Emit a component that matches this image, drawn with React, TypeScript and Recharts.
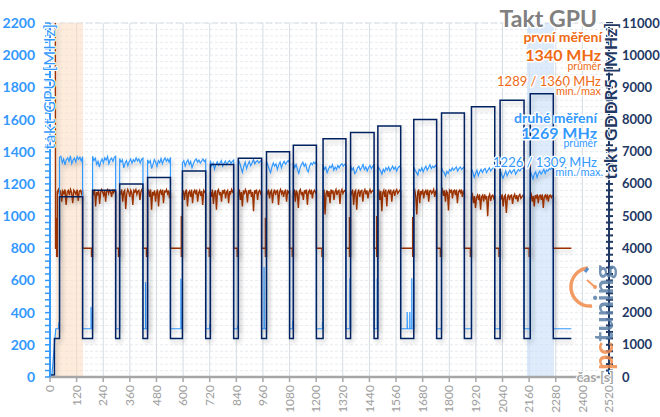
import React from 'react';
import { LineChart, Line, XAxis, YAxis, CartesianGrid, ReferenceArea } from 'recharts';

const FONT = 'Lato, "Open Sans", sans-serif';

// ---- axis ticks ----
const xMajorTicks = [0, 120, 240, 360, 480, 600, 720, 840, 960, 1080, 1200, 1320, 1440, 1560, 1680, 1800, 1920, 2040, 2160, 2280, 2400, 2520];
const xMinorTicks = Array.from({ length: 106 }, (_, i) => i * 24);
const gpuMajorTicks = [0, 200, 400, 600, 800, 1000, 1200, 1400, 1600, 1800, 2000, 2200];
const gpuMinorTicks = Array.from({ length: 56 }, (_, i) => i * 40);
const memTicks = Array.from({ length: 56 }, (_, i) => i * 200);

// ---- memory clock (GDDR5) pulses, right axis ----
const pulseStart = [43, 192, 314, 440, 597, 723, 849, 976, 1097, 1231, 1355, 1478, 1640, 1765, 1900, 2029, 2165];
const pulseEnd = [147, 296, 419, 543, 702, 828, 954, 1080, 1201, 1334, 1461, 1581, 1743, 1868, 2005, 2137, 2269];
const memHigh = [5600, 5800, 6000, 6200, 6400, 6600, 6800, 7000, 7200, 7400, 7600, 7800, 8000, 8200, 8400, 8600, 8800];
const memLow = 1200;
const memIntro = [
  { t: 0, v: 60 },
  { t: 20, v: 60 },
  { t: 20, v: 1200 },
];
const endTime = 2350;

// ---- second measurement (blue), left axis ----
const blueIdle = 300;
const blueIntro = [
  { t: 0, v: 0 },
  { t: 8, v: 0 },
  { t: 26, v: 300 },
  { t: 39, v: 300 },
  { t: 40, v: 340 },
  { t: 41, v: 300 },
];
const blueLoad = [
  [1365, 1372, 1330, 1355, 1318, 1350, 1362, 1340, 1375, 1325, 1348, 1360, 1335, 1370, 1352, 1366, 1342, 1370],
  [1372, 1345, 1360, 1322, 1340, 1305, 1338, 1355, 1330, 1362, 1348, 1370, 1325, 1350, 1360, 1340, 1365, 1372],
  [1358, 1335, 1350, 1300, 1330, 1345, 1312, 1340, 1355, 1328, 1350, 1338, 1362, 1342, 1356, 1330, 1352, 1360],
  [1350, 1330, 1345, 1295, 1320, 1352, 1335, 1310, 1345, 1330, 1358, 1325, 1348, 1362, 1340, 1355, 1335, 1365],
  [1330, 1345, 1310, 1335, 1350, 1320, 1340, 1300, 1325, 1345, 1355, 1335, 1348, 1330, 1342, 1355, 1338, 1350],
  [1345, 1310, 1330, 1292, 1320, 1338, 1315, 1330, 1345, 1310, 1328, 1342, 1320, 1336, 1345, 1328, 1340, 1348],
  [1350, 1330, 1300, 1272, 1310, 1335, 1295, 1320, 1340, 1312, 1330, 1350, 1325, 1338, 1345, 1330, 1340, 1348],
  [1340, 1318, 1290, 1270, 1305, 1330, 1310, 1325, 1290, 1318, 1336, 1300, 1325, 1340, 1322, 1335, 1345, 1330],
  [1335, 1300, 1320, 1290, 1265, 1300, 1320, 1335, 1310, 1325, 1290, 1275, 1310, 1330, 1318, 1335, 1325, 1340],
  [1320, 1290, 1305, 1270, 1290, 1310, 1300, 1320, 1285, 1305, 1290, 1315, 1300, 1318, 1325, 1310, 1322, 1315],
  [1315, 1285, 1300, 1265, 1275, 1300, 1310, 1285, 1300, 1320, 1290, 1305, 1280, 1300, 1315, 1295, 1310, 1318],
  [1310, 1295, 1280, 1260, 1290, 1275, 1300, 1285, 1305, 1280, 1295, 1310, 1290, 1305, 1280, 1300, 1310, 1302],
  [1305, 1285, 1270, 1255, 1290, 1280, 1300, 1275, 1295, 1310, 1285, 1300, 1320, 1295, 1310, 1300, 1315, 1305],
  [1300, 1280, 1270, 1250, 1278, 1265, 1290, 1280, 1300, 1285, 1295, 1305, 1280, 1295, 1305, 1290, 1300, 1308],
  [1295, 1275, 1240, 1265, 1285, 1250, 1275, 1290, 1270, 1288, 1295, 1270, 1285, 1300, 1280, 1292, 1300, 1305],
  [1290, 1260, 1235, 1255, 1280, 1250, 1270, 1285, 1265, 1280, 1290, 1260, 1275, 1290, 1280, 1295, 1300, 1298],
  [1285, 1255, 1230, 1260, 1275, 1240, 1265, 1280, 1260, 1275, 1290, 1265, 1285, 1280, 1295, 1290, 1300, 1295],
];
const blueSpikes = [
  [185, 435], [431, 590], [590, 610], [720, 330], [846, 320], [965, 683], [1094, 350],
  [1228, 340], [1352, 613], [1475, 613], [1610, 404], [1622, 404], [1631, 613],
];

// ---- first measurement (orange), left axis ----
const orangeIdle = 800;
const orangeDip = 750;
const orangeIntro = [
  { t: 24, v: 2200 },
  { t: 25, v: 800 },
  { t: 29, v: 800 },
  { t: 30, v: 990 },
  { t: 30, v: 750 },
];
const orangeStart = [33, 192, 314, 440, 597, 723, 849, 976, 1097, 1231, 1355, 1478, 1640, 1765, 1900, 2029, 2165];
const orangeGapSpike = [0, 0, 0, 1000, 0, 0, 990, 0, 0, 995, 1000, 995, 0, 0, 0, 0];
const orangeLoad = [
  [1150, 1165, 1135, 1160, 1090, 1155, 1140, 1165, 1070, 1150, 1160, 1130, 1165, 1145, 1080, 1160, 1150, 1135, 1165, 1095, 1155, 1160, 1140, 1165],
  [1160, 1140, 1165, 1060, 1150, 1135, 1160, 1075, 1145, 1165, 1150, 1130, 1160, 1090, 1155, 1165, 1140, 1160, 1150, 1120, 1165, 1145, 1160, 1150],
  [1155, 1140, 1165, 1090, 1150, 1160, 1045, 1140, 1165, 1150, 1120, 1160, 1145, 1070, 1160, 1150, 1165, 1135, 1155, 1160, 1100, 1150, 1165, 1155],
  [1150, 1160, 1120, 1165, 1040, 1150, 1135, 1160, 1090, 1145, 1165, 1060, 1150, 1160, 1130, 1165, 1080, 1155, 1150, 1165, 1140, 1160, 1110, 1155],
  [1140, 1160, 1100, 1150, 1165, 1060, 1145, 1155, 1120, 1165, 1080, 1150, 1160, 1135, 1165, 1090, 1145, 1160, 1125, 1155, 1070, 1160, 1150, 1140],
  [1150, 1120, 1165, 1075, 1145, 1160, 1040, 1155, 1165, 1130, 1150, 1090, 1160, 1145, 1165, 1110, 1150, 1160, 1080, 1155, 1140, 1165, 1150, 1160],
  [1145, 1165, 1100, 1150, 1060, 1160, 1135, 1165, 1150, 1085, 1160, 1145, 1165, 1120, 1150, 1030, 1160, 1145, 1165, 1100, 1150, 1160, 1140, 1155],
  [1155, 1140, 1165, 1110, 1150, 1160, 1080, 1145, 1165, 1130, 1155, 1160, 1070, 1150, 1165, 1140, 1160, 1120, 1150, 1165, 1090, 1155, 1145, 1160],
  [1150, 1165, 1090, 1160, 1140, 1050, 1155, 1165, 1130, 1150, 1100, 1160, 1145, 1165, 1070, 1150, 1160, 1135, 1165, 1110, 1150, 1160, 1145, 1155],
  [1150, 1165, 1010, 1140, 1160, 1120, 1155, 1080, 1165, 1145, 1160, 1100, 1150, 1165, 1130, 1155, 1160, 1075, 1150, 1165, 1140, 1155, 1160, 1145],
  [1155, 1140, 1165, 1070, 1150, 1160, 1040, 1145, 1165, 1120, 1155, 1160, 1090, 1150, 1165, 1135, 1160, 1110, 1150, 1165, 1145, 1155, 1160, 1150],
  [1150, 1165, 1100, 1155, 1030, 1145, 1160, 1120, 1165, 1060, 1150, 1160, 1135, 1165, 1090, 1150, 1160, 1125, 1155, 1165, 1140, 1150, 1160, 1155],
  [1145, 1160, 1120, 1010, 1150, 1165, 1080, 1155, 1140, 1165, 1110, 1150, 1160, 1130, 1165, 1090, 1155, 1160, 1140, 1150, 1165, 1120, 1155, 1160],
  [1150, 1165, 1125, 1160, 1090, 1155, 1145, 1035, 1160, 1150, 1165, 1110, 1155, 1160, 1130, 1165, 1080, 1150, 1160, 1145, 1165, 1120, 1155, 1160],
  [1120, 1135, 1080, 1125, 1050, 1115, 1130, 1100, 1135, 1040, 1120, 1130, 1090, 1135, 1110, 1125, 1000, 1120, 1135, 1095, 1125, 1130, 1110, 1128],
  [1125, 1110, 1135, 1060, 1120, 1130, 1020, 1115, 1135, 1100, 1125, 1130, 1075, 1120, 1135, 1105, 1130, 1090, 1125, 1135, 1110, 1120, 1130, 1125],
  [1120, 1135, 1090, 1125, 1060, 1130, 1115, 1135, 1080, 1125, 1130, 1100, 1135, 1050, 1120, 1130, 1110, 1135, 1090, 1125, 1130, 1115, 1128, 1130],
];

// ---- legend / title texts ----
const chartTitle = 'Takt GPU';
const leftAxisTitle = 'takt GPU [MHz]';
const rightAxisTitle = 'takt GDDR5 [MHz]';
const xAxisTitle = 'čas [s]';
const run1 = ['první měření', '1340 MHz', 'průměr', '1289 / 1360 MHz', 'min./max'];
const run2 = ['druhé měření', '1269 MHz', 'průměr', '1226 / 1309 MHz', 'min./max.'];

type P = { t: number; v: number };

function spread(s: number, e: number, vals: number[]): P[] {
  return vals.map((v, k) => ({ t: s + ((e - s) * k) / (vals.length - 1), v }));
}

const navyData: P[] = [...memIntro];
pulseStart.forEach((s, i) => {
  navyData.push({ t: s, v: memLow }, { t: s, v: memHigh[i] }, { t: pulseEnd[i], v: memHigh[i] }, { t: pulseEnd[i], v: memLow });
});
navyData.push({ t: endTime, v: memLow });

const blueData: P[] = [...blueIntro];
pulseStart.forEach((s, i) => {
  const e = pulseEnd[i];
  blueData.push({ t: s, v: blueIdle });
  blueData.push(...spread(s, e, blueLoad[i]));
  blueData.push({ t: e, v: blueIdle });
  const next = i < pulseStart.length - 1 ? pulseStart[i + 1] : endTime;
  blueSpikes
    .filter(([ts]) => ts > e && ts < next)
    .forEach(([ts, vs]) => {
      blueData.push({ t: ts, v: blueIdle }, { t: ts, v: vs }, { t: ts + 1, v: blueIdle });
    });
  blueData.push({ t: next, v: blueIdle });
});

const orangeData: P[] = [...orangeIntro];
orangeStart.forEach((s, i) => {
  const e = pulseEnd[i];
  orangeData.push({ t: s, v: orangeDip });
  orangeData.push(...spread(s, e, orangeLoad[i]));
  orangeData.push({ t: e, v: orangeIdle });
  if (i < orangeStart.length - 1) {
    const ns = orangeStart[i + 1];
    orangeData.push({ t: ns - 5, v: orangeIdle });
    if (orangeGapSpike[i]) orangeData.push({ t: ns - 5, v: orangeGapSpike[i] });
    orangeData.push({ t: ns - 5, v: orangeDip });
  } else {
    orangeData.push({ t: endTime, v: orangeIdle });
  }
});

const BLUE = '#3399ff';
const NAVY = '#1f3864';
const ORANGE_TXT = '#ee6a14';
const GRAY = '#a6a6a6';

const TimeTick = (p: any) => {
  const { x, y, payload } = p;
  return (
    <text
      x={x}
      y={y}
      transform={`rotate(-90 ${x} ${y})`}
      textAnchor="end"
      dy="0.35em"
      fill="#9e9e9e"
      fontSize={12}
      fontFamily={FONT}
    >
      {payload.value}
    </text>
  );
};

const MemTick = (p: any) => {
  const { x, y, payload } = p;
  const ax = x - 13;
  const major = payload.value % 1000 === 0;
  return (
    <g>
      <line x1={ax - 3} x2={ax + 4} y1={y} y2={y} stroke={NAVY} strokeWidth={2} />
      {major && (
        <text x={x} y={y} dy="0.35em" fill={NAVY} fontSize={13} fontWeight="bold" fontFamily={FONT}>
          {payload.value}
        </text>
      )}
    </g>
  );
};

const halo = (w: number) => ({
  stroke: '#ffffff',
  strokeWidth: w,
  strokeLinejoin: 'round' as const,
  style: { paintOrder: 'stroke' as const },
});

const Overlay = () => (
  <svg
    width={660}
    height={417}
    style={{ position: 'absolute', left: 0, top: 0, pointerEvents: 'none' }}
    fontFamily={FONT}
  >
    <text x={597} y={27} textAnchor="end" fontSize={23} fontWeight="bold" fill="#808080" {...halo(3)}>
      {chartTitle}
    </text>
    {/* first run */}
    <text x={602} y={42} textAnchor="end" fontSize={14} fontWeight="bold" fill={ORANGE_TXT} {...halo(3)}>{run1[0]}</text>
    <text x={601} y={61} textAnchor="end" fontSize={16} fontWeight="bold" fill={ORANGE_TXT} {...halo(3)}>{run1[1]}</text>
    <text x={601} y={70} textAnchor="end" fontSize={10.5} fill={ORANGE_TXT} {...halo(2)}>{run1[2]}</text>
    <text x={601} y={86} textAnchor="end" fontSize={13} fill={ORANGE_TXT} {...halo(3)}>{run1[3]}</text>
    <text x={601} y={95} textAnchor="end" fontSize={11} fill={ORANGE_TXT} {...halo(2)}>{run1[4]}</text>
    {/* second run */}
    <text x={597} y={123} textAnchor="end" fontSize={14} fontWeight="bold" fill={BLUE} {...halo(3)}>{run2[0]}</text>
    <text x={597} y={139} textAnchor="end" fontSize={16} fontWeight="bold" fill={BLUE} {...halo(3)}>{run2[1]}</text>
    <text x={597} y={147} textAnchor="end" fontSize={10.5} fill={BLUE} {...halo(2)}>{run2[2]}</text>
    <text x={597} y={167} textAnchor="end" fontSize={13} fill={BLUE} {...halo(3)}>{run2[3]}</text>
    <text x={603} y={176} textAnchor="end" fontSize={11} fill={BLUE} {...halo(2)}>{run2[4]}</text>
    {/* axis titles */}
    <text
      x={55}
      y={23}
      transform="rotate(-90 55 23)"
      textAnchor="end"
      fontSize={16}
      letterSpacing={1}
      fill={BLUE}
      {...halo(2)}
    >
      {leftAxisTitle}
    </text>
    <text
      x={617}
      y={22}
      transform="rotate(-90 617 22)"
      textAnchor="end"
      fontSize={17}
      fontWeight="bold"
      letterSpacing={0.8}
      fill={NAVY}
      {...halo(2)}
    >
      {rightAxisTitle}
    </text>
    <text x={614} y={382} textAnchor="end" fontSize={14} fontWeight="bold" fill={GRAY} {...halo(2)}>
      {xAxisTitle}
    </text>
    {/* logo */}
    <g opacity={0.85}>
      <path d="M 588 268 A 19 19 0 0 0 592 306" fill="none" stroke="#f28a4a" strokeWidth={3.5} />
      <line x1={595} y1={287} x2={587} y2={280} stroke="#f28a4a" strokeWidth={2} />
      <circle cx={595} cy={287} r={2} fill="#f28a4a" />
      <line x1={585} y1={272} x2={588} y2={268} stroke="#3d7cc9" strokeWidth={3} />
      <text x={613} y={370} transform="rotate(-90 613 370)" fontSize={27} fontWeight="bold">
        <tspan fill="#f28a4a">pc</tspan>
        <tspan fill="#5a7fa8">tuning</tspan>
      </text>
    </g>
  </svg>
);

export default function App() {
  return (
    <div style={{ position: 'absolute', left: 0, top: 0, width: 660, height: 417, background: '#ffffff' }}>
      <LineChart width={660} height={417} margin={{ top: 23, right: 0, bottom: 0, left: 0 }}>
        <defs>
          <filter id="lineShadow" x="-2%" y="-5%" width="104%" height="115%">
            <feGaussianBlur in="SourceAlpha" stdDeviation="2" />
            <feOffset dx="2" dy="3" result="ob" />
            <feComponentTransfer>
              <feFuncA type="linear" slope="0.22" />
            </feComponentTransfer>
            <feMerge>
              <feMergeNode />
              <feMergeNode in="SourceGraphic" />
            </feMerge>
          </filter>
        </defs>
        <XAxis
          xAxisId="main"
          type="number"
          dataKey="t"
          domain={[0, 2520]}
          ticks={xMajorTicks}
          interval={0}
          height={40}
          tickSize={5}
          tickMargin={3}
          allowDataOverflow
          axisLine={{ stroke: GRAY, strokeWidth: 2.5 }}
          tickLine={{ stroke: GRAY, strokeWidth: 1.5 }}
          tick={TimeTick}
        />
        <XAxis xAxisId="xminor" type="number" dataKey="t" domain={[0, 2520]} ticks={xMinorTicks} interval={0} hide />
        <YAxis
          yAxisId="left"
          type="number"
          domain={[0, 2200]}
          ticks={gpuMinorTicks}
          interval={0}
          width={50}
          tickSize={5}
          tickMargin={10}
          allowDataOverflow
          tickFormatter={(v: number) => (v % 200 === 0 ? String(v) : '')}
          axisLine={{ stroke: BLUE, strokeWidth: 2 }}
          tickLine={{ stroke: BLUE, strokeWidth: 1.5 }}
          tick={{ fill: BLUE, fontSize: 14, fontWeight: 'bold', fontFamily: FONT }}
        />
        <YAxis yAxisId="ymajor" type="number" domain={[0, 2200]} ticks={gpuMajorTicks} interval={0} hide />
        <YAxis
          yAxisId="right"
          orientation="right"
          type="number"
          domain={[0, 11000]}
          ticks={memTicks}
          interval={0}
          width={51}
          tickSize={4}
          tickMargin={9}
          allowDataOverflow
          axisLine={{ stroke: NAVY, strokeWidth: 2 }}
          tickLine={false}
          tick={MemTick}
        />
        <CartesianGrid xAxisId="xminor" yAxisId="left" horizontal={false} stroke="#eef0f4" />
        <CartesianGrid xAxisId="xminor" yAxisId="left" vertical={false} stroke="#e8ebef" strokeDasharray="3 2" />
        <CartesianGrid xAxisId="main" yAxisId="ymajor" horizontal={false} stroke="#d6dce3" />
        <CartesianGrid xAxisId="main" yAxisId="ymajor" vertical={false} stroke="#d6dce3" strokeDasharray="6 3" />
        <ReferenceArea xAxisId="main" yAxisId="left" x1={26} x2={149} y1={0} y2={2200} fill="#fcdcbf" fillOpacity={0.55} stroke="none" />
        <ReferenceArea xAxisId="main" yAxisId="left" x1={2150} x2={2272} y1={0} y2={2200} fill="#c6def9" fillOpacity={0.6} stroke="none" />
        <Line
          xAxisId="main"
          yAxisId="left"
          data={orangeData}
          dataKey="v"
          type="linear"
          stroke="#9c3200"
          strokeWidth={1.4}
          dot={false}
          activeDot={false}
          isAnimationActive={false}
          filter="url(#lineShadow)"
        />
        <Line
          xAxisId="main"
          yAxisId="left"
          data={blueData}
          dataKey="v"
          type="linear"
          stroke={BLUE}
          strokeWidth={1.2}
          dot={false}
          activeDot={false}
          isAnimationActive={false}
          filter="url(#lineShadow)"
        />
        <Line
          xAxisId="main"
          yAxisId="right"
          data={navyData}
          dataKey="v"
          type="linear"
          stroke="#002060"
          strokeWidth={1.5}
          dot={false}
          activeDot={false}
          isAnimationActive={false}
          filter="url(#lineShadow)"
        />
      </LineChart>
      <Overlay />
    </div>
  );
}
